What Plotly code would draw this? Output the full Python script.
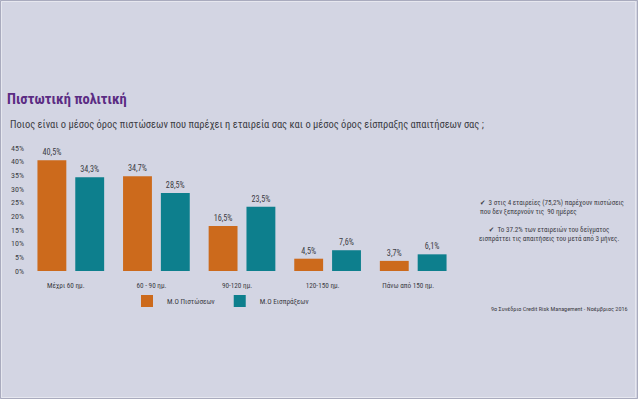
import plotly.graph_objects as go

categories = ["Μέχρι 60 ημ.", "60 - 90 ημ.", "90-120 ημ.", "120-150 ημ.", "Πάνω από 150 ημ."]
credit_days = [40.5, 34.7, 16.5, 4.5, 3.7]      # Μ.Ο Πιστώσεων
collection_days = [34.3, 28.5, 23.5, 7.6, 6.1]  # Μ.Ο Εισπράξεων
series_names = ["Μ.Ο Πιστώσεων", "Μ.Ο Εισπράξεων"]
y_ticks = [0, 5, 10, 15, 20, 25, 30, 35, 40, 45]
y_tick_labels = [f"{v}%" for v in y_ticks]

W, H = 638, 399
L, R, T, B = 28, 182, 146, 128
PW, PH = W - L - R, H - T - B
Y_MAX = PH / (123 / 45)

def px(x):
    return (x - L) / PW

def py(y):
    return (H - B - y) / PH

FONT = "Liberation Sans Narrow, Roboto Condensed, DejaVu Sans Condensed, sans-serif"
TXT = "#3d3d45"
ORANGE = "#CC6A1C"
TEAL = "#0D7F8D"
BG = "#D3D5E3"

def fmt(v):
    return f"{v:.1f}%".replace(".", ",")

fig = go.Figure()
fig.add_trace(go.Bar(
    x=categories, y=credit_days, name=series_names[0],
    marker=dict(color=ORANGE, line=dict(width=0)),
    text=[fmt(v) for v in credit_days], textposition="outside",
    textfont=dict(family=FONT, size=8.2, color=TXT), cliponaxis=False,
))
fig.add_trace(go.Bar(
    x=categories, y=collection_days, name=series_names[1],
    marker=dict(color=TEAL, line=dict(width=0)),
    text=[fmt(v) for v in collection_days], textposition="outside",
    textfont=dict(family=FONT, size=8.2, color=TXT), cliponaxis=False,
))

annotations = [
    dict(x=px(5), y=py(100), xref="paper", yref="paper", xanchor="left", yanchor="middle",
         text="<b>Πιστωτική πολιτική</b>", showarrow=False,
         font=dict(family=FONT, size=14.5, color="#5B2C83")),
    dict(x=px(8), y=py(124), xref="paper", yref="paper", xanchor="left", yanchor="middle",
         text="Ποιος είναι ο μέσος όρος πιστώσεων που παρέχει η εταιρεία σας και ο μέσος όρος είσπραξης απαιτήσεων σας ;",
         showarrow=False, font=dict(family=FONT, size=10.5, color=TXT)),
    dict(x=px(478), y=py(206.5), xref="paper", yref="paper", xanchor="left", yanchor="middle",
         align="left",
         text="✔  3 στις 4 εταιρείες (75,2%) παρέχουν πιστώσεις<br>που δεν ξεπερνούν τις  90 ημέρες",
         showarrow=False, font=dict(family=FONT, size=7.1, color=TXT)),
    dict(x=px(549), y=py(233.5), xref="paper", yref="paper", xanchor="center", yanchor="middle",
         align="center",
         text="✔  Το 37.2% των εταιρειών του δείγματος<br>εισπράττει τις απαιτήσεις του μετά από 3 μήνες.",
         showarrow=False, font=dict(family=FONT, size=7.1, color=TXT)),
    dict(x=px(630), y=py(309), xref="paper", yref="paper", xanchor="right", yanchor="middle",
         text="9ο Συνέδριο Credit Risk Management - Νοέμβριος 2016",
         showarrow=False, font=dict(family=FONT, size=6.2, color=TXT)),
]

shapes = [
    dict(type="rect", xref="paper", yref="paper", x0=px(0.5), x1=px(637.5), y0=py(398.5), y1=py(0.5),
         line=dict(color="#A9ABBE", width=1), layer="below"),
    dict(type="rect", xref="paper", yref="paper", x0=px(1.5), x1=px(635.5), y0=py(397.5), y1=py(1.5),
         line=dict(color="#E6E7EF", width=1), layer="below"),
]

fig.update_layout(
    width=W, height=H,
    margin=dict(l=L, r=R, t=T, b=B, pad=0),
    paper_bgcolor=BG, plot_bgcolor=BG,
    barmode="group", bargap=0.116, bargroupgap=0.237,
    showlegend=True,
    legend=dict(orientation="h", x=px(127), y=py(301), xanchor="left", yanchor="middle",
                font=dict(family=FONT, size=7.3, color=TXT), bgcolor="rgba(0,0,0,0)",
                itemwidth=30),
    annotations=annotations,
    shapes=shapes,
    xaxis=dict(showgrid=False, showline=False, zeroline=False, ticks="",
               tickfont=dict(family=FONT, size=7.2, color=TXT),
               ticklabelstandoff=9, ticklabelshift=-5, fixedrange=True),
    yaxis=dict(range=[0, Y_MAX], tickvals=y_ticks, ticktext=y_tick_labels, showgrid=False,
               showline=False, zeroline=False, ticks="",
               tickfont=dict(family=FONT, size=8, color=TXT), ticklabelstandoff=3,
               fixedrange=True),
)

fig.write_html(
    "out.html",
    config={"displayModeBar": False},
    post_script="document.body.style.margin='0';document.body.style.padding='0';document.documentElement.style.overflow='hidden';",
)
